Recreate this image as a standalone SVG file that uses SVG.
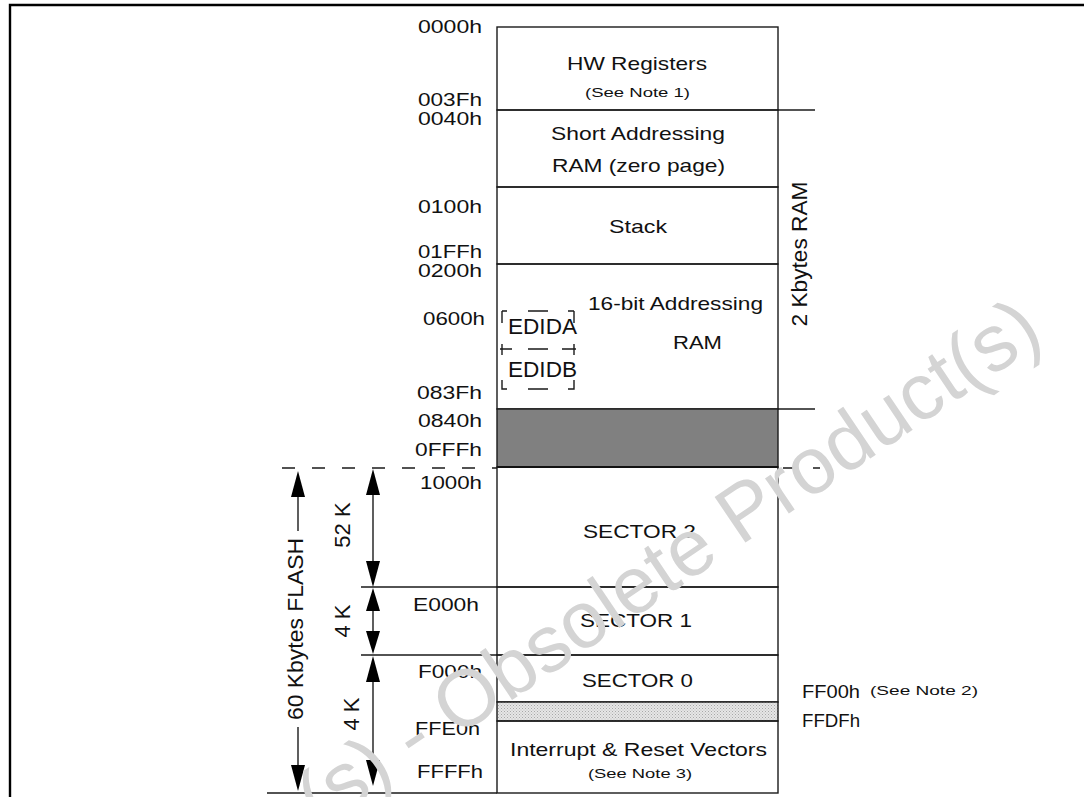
<svg xmlns="http://www.w3.org/2000/svg" width="1084" height="797" viewBox="0 0 1084 797">
<defs>
<style>
.ln{stroke:#1a1a1a;stroke-width:1.4;fill:none}
.t{font-family:"Liberation Sans",Arial,sans-serif;font-size:19px;fill:#111}
.s{font-family:"Liberation Sans",Arial,sans-serif;font-size:13.5px;fill:#111}
.r{font-family:"Liberation Sans",Arial,sans-serif;font-size:22px;fill:#111}
.dash{stroke:#1a1a1a;stroke-width:1.4;fill:none;stroke-dasharray:13 17}
.ah{fill:#000}
.wm{font-family:"Liberation Sans",Arial,sans-serif;font-size:80px;fill:#d4d4d4}
</style>
<pattern id="stip" width="3" height="3" patternUnits="userSpaceOnUse">
<rect width="3" height="3" fill="#e6e6e6"/>
<rect width="1" height="1" fill="#a8a8a8"/>
<rect x="1.5" y="1.5" width="1" height="1" fill="#b8b8b8"/>
</pattern>
</defs>
<rect width="1084" height="797" fill="#fff"/>
<path d="M10 797 V5 H1084" stroke="#000" stroke-width="2.4" fill="none"/>

<g id="hw-registers">
<rect class="ln" x="497" y="27" width="281" height="83"/>
<text class="t" x="567" y="70" textLength="140" lengthAdjust="spacingAndGlyphs">HW Registers</text>
<text class="s" x="585" y="97" textLength="105" lengthAdjust="spacingAndGlyphs">(See Note 1)</text>
</g>
<g id="short-ram">
<rect class="ln" x="497" y="110" width="281" height="77"/>
<text class="t" x="551" y="140" textLength="174" lengthAdjust="spacingAndGlyphs">Short Addressing</text>
<text class="t" x="552" y="172" textLength="173" lengthAdjust="spacingAndGlyphs">RAM (zero page)</text>
</g>
<g id="stack">
<rect class="ln" x="497" y="187" width="281" height="77"/>
<text class="t" x="609" y="233" textLength="58" lengthAdjust="spacingAndGlyphs">Stack</text>
</g>
<g id="ram16">
<rect class="ln" x="497" y="264" width="281" height="145"/>
<text class="t" x="588" y="310" textLength="175" lengthAdjust="spacingAndGlyphs">16-bit Addressing</text>
<text class="t" x="673" y="349" textLength="49" lengthAdjust="spacingAndGlyphs">RAM</text>
</g>
<g id="edid">
<path class="ln" d="M502 311 H507 M528 311 H548 M568 311 H574 M502 311 V323 M574 311 V323 M500 349 H512 M528 349 H548 M562 349 H576 M502 344 V355 M574 344 V355 M502 380 V389 H507 M528 389 H548 M568 389 H574 V380"/>
<text class="r" x="508" y="334" font-size="21" textLength="69" lengthAdjust="spacingAndGlyphs">EDIDA</text>
<text class="r" x="508" y="377" font-size="21" textLength="69" lengthAdjust="spacingAndGlyphs">EDIDB</text>
</g>
<g id="reserved">
<rect x="497" y="409" width="281" height="58" fill="#808080" stroke="#1a1a1a" stroke-width="1.4"/>
<line x1="497" y1="467" x2="778" y2="467" stroke="#000" stroke-width="2.2"/>
</g>
<g id="sector2">
<rect class="ln" x="497" y="467" width="281" height="120"/>
<text class="t" x="583" y="538" textLength="113" lengthAdjust="spacingAndGlyphs">SECTOR 2</text>
</g>
<g id="sector1">
<rect class="ln" x="497" y="587" width="281" height="68"/>
<text class="t" x="580" y="627" textLength="112" lengthAdjust="spacingAndGlyphs">SECTOR 1</text>
</g>
<g id="sector0">
<rect class="ln" x="497" y="655" width="281" height="47"/>
<text class="t" x="582" y="687" textLength="111" lengthAdjust="spacingAndGlyphs">SECTOR 0</text>
</g>
<g id="ff00-band">
<rect x="497" y="702" width="281" height="19" fill="url(#stip)" stroke="#1a1a1a" stroke-width="1.4"/>
</g>
<g id="vectors">
<rect class="ln" x="497" y="721" width="281" height="72"/>
<text class="t" x="510" y="756" textLength="257" lengthAdjust="spacingAndGlyphs">Interrupt &amp; Reset Vectors</text>
<text class="s" x="588" y="778" textLength="104" lengthAdjust="spacingAndGlyphs">(See Note 3)</text>
</g>

<g id="addresses">
<text class="t" x="418" y="33" textLength="64" lengthAdjust="spacingAndGlyphs">0000h</text>
<text class="t" x="418" y="106" textLength="64" lengthAdjust="spacingAndGlyphs">003Fh</text>
<text class="t" x="418" y="125" textLength="64" lengthAdjust="spacingAndGlyphs">0040h</text>
<text class="t" x="418" y="213" textLength="64" lengthAdjust="spacingAndGlyphs">0100h</text>
<text class="t" x="418" y="258" textLength="64" lengthAdjust="spacingAndGlyphs">01FFh</text>
<text class="t" x="418" y="277" textLength="64" lengthAdjust="spacingAndGlyphs">0200h</text>
<text class="t" x="423" y="325" textLength="62" lengthAdjust="spacingAndGlyphs">0600h</text>
<text class="t" x="417" y="399" textLength="65" lengthAdjust="spacingAndGlyphs">083Fh</text>
<text class="t" x="418" y="427" textLength="64" lengthAdjust="spacingAndGlyphs">0840h</text>
<text class="t" x="415" y="456" textLength="67" lengthAdjust="spacingAndGlyphs">0FFFh</text>
<text class="t" x="420" y="489" textLength="62" lengthAdjust="spacingAndGlyphs">1000h</text>
<text class="t" x="413" y="611" textLength="66" lengthAdjust="spacingAndGlyphs">E000h</text>
<text class="t" x="418" y="678" textLength="64" lengthAdjust="spacingAndGlyphs">F000h</text>
<text class="t" x="415" y="735" textLength="65" lengthAdjust="spacingAndGlyphs">FFE0h</text>
<text class="t" x="417" y="778" textLength="66" lengthAdjust="spacingAndGlyphs">FFFFh</text>
<text class="t" x="802" y="698" textLength="58" lengthAdjust="spacingAndGlyphs">FF00h</text>
<text class="t" x="802" y="727" textLength="58" lengthAdjust="spacingAndGlyphs">FFDFh</text>
<text class="s" x="870" y="695" textLength="108" lengthAdjust="spacingAndGlyphs">(See Note 2)</text>
</g>

<g id="connectors">
<line class="ln" x1="778" y1="110" x2="815" y2="110"/>
<line class="ln" x1="778" y1="409" x2="815" y2="409"/>
<line class="dash" x1="783" y1="468" x2="820" y2="468"/>
<line class="dash" x1="282" y1="468" x2="497" y2="468"/>
<line class="ln" x1="361" y1="587" x2="497" y2="587"/>
<line class="ln" x1="361" y1="655" x2="497" y2="655"/>
<line class="ln" x1="267" y1="793" x2="497" y2="793"/>
<line class="ln" x1="298" y1="496" x2="298" y2="531"/>
<line class="ln" x1="298" y1="727" x2="298" y2="766"/>
<polygon class="ah" points="298,471 291,497 305,497"/>
<polygon class="ah" points="291,765 305,765 298,791"/>
<line class="ln" x1="373" y1="494" x2="373" y2="562"/>
<polygon class="ah" points="373,469 366,495 380,495"/>
<polygon class="ah" points="366,561 380,561 373,587"/>
<line class="ln" x1="373" y1="610" x2="373" y2="632"/>
<polygon class="ah" points="373,588 366,611 380,611"/>
<polygon class="ah" points="366,631 380,631 373,654"/>
<line class="ln" x1="373" y1="681" x2="373" y2="762"/>
<polygon class="ah" points="373,656 366,682 380,682"/>
<polygon class="ah" points="366,760 380,760 373,786"/>
</g>

<g id="dim-labels">
<text class="r" transform="translate(303,629) rotate(-90)" text-anchor="middle" textLength="182" lengthAdjust="spacingAndGlyphs">60 Kbytes FLASH</text>
<text class="r" transform="translate(350,525) rotate(-90)" text-anchor="middle">52 K</text>
<text class="r" transform="translate(350,621) rotate(-90)" text-anchor="middle">4 K</text>
<text class="r" transform="translate(359,714) rotate(-90)" text-anchor="middle">4 K</text>
<text class="r" transform="translate(807,254) rotate(-90)" text-anchor="middle" textLength="145" lengthAdjust="spacingAndGlyphs">2 Kbytes RAM</text>
</g>

<g id="watermark">
<text class="wm" transform="translate(1046,340) rotate(-34)" text-anchor="end">(s) - Obsolete Product(s)</text>
</g>
</svg>
